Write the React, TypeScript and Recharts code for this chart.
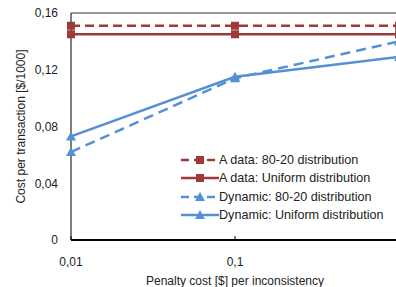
import { CartesianGrid, Legend, Line, LineChart, ReferenceLine, XAxis, YAxis } from "recharts"

const penalties = [0.01, 0.1, 1]
const xTicks = [0.01, 0.1]
const yTicks = [0, 0.04, 0.08, 0.12, 0.16]

const aData8020 = [0.151, 0.151, 0.151]
const aDataUniform = [0.145, 0.145, 0.145]
const dynamic8020 = [0.062, 0.114, 0.14]
const dynamicUniform = [0.073, 0.115, 0.129]

const seriesNames = [
  "A data: 80-20 distribution",
  "A data: Uniform distribution",
  "Dynamic: 80-20 distribution",
  "Dynamic: Uniform distribution",
]

const RED = "#9E3A37"
const BLUE = "#5590D6"
const FONT = "'Liberation Sans', Arial, sans-serif"

const series = [
  { key: "a8020", name: seriesNames[0], color: RED, dash: "9 5", marker: "square" },
  { key: "aUni", name: seriesNames[1], color: RED, dash: undefined, marker: "square" },
  { key: "d8020", name: seriesNames[2], color: BLUE, dash: "10 6", marker: "triangle" },
  { key: "dUni", name: seriesNames[3], color: BLUE, dash: undefined, marker: "triangle" },
]

const chartData = penalties.map((p, i) => ({
  penalty: p,
  a8020: aData8020[i],
  aUni: aDataUniform[i],
  d8020: dynamic8020[i],
  dUni: dynamicUniform[i],
}))

const fmt = (v: number) => String(v).replace(".", ",")

const Marker = ({ cx, cy, kind, color }: { cx: number; cy: number; kind: string; color: string }) => {
  if (kind === "square") {
    return <rect x={cx - 4} y={cy - 4} width={8} height={8} fill={color} />
  }
  return <path d={`M${cx},${cy - 5} L${cx + 5},${cy + 4} L${cx - 5},${cy + 4} Z`} fill={color} />
}

const XTick = (props: any) => {
  const { x, y, payload } = props
  return (
    <g>
      <line x1={x} x2={x} y1={y - 4} y2={y} stroke="#000" strokeWidth={1} />
      <text x={x} y={y + 26} textAnchor="middle" fontSize={12} fontFamily={FONT} fill="#222">
        {fmt(payload.value)}
      </text>
    </g>
  )
}

const renderLegend = () => (
  <div style={{ fontFamily: FONT, fontSize: 12.6, color: "#222" }}>
    {series.map((s) => (
      <div key={s.key} style={{ display: "flex", alignItems: "center", height: 18.3 }}>
        <svg width={38} height={12}>
          <line x1={0} x2={38} y1={6} y2={6} stroke={s.color} strokeWidth={2.5} strokeDasharray={s.dash ? "8 5" : undefined} />
          <Marker cx={19} cy={6} kind={s.marker} color={s.color} />
        </svg>
        <span style={{ whiteSpace: "nowrap" }}>{s.name}</span>
      </div>
    ))}
  </div>
)

export default function App() {
  return (
    <div style={{ position: "absolute", left: 0, top: 0, width: 396, height: 287, overflow: "hidden", background: "#fff" }}>
      <LineChart width={400} height={287} data={chartData} margin={{ top: 13, right: 1, bottom: 0, left: 0 }}>
        <CartesianGrid horizontal={false} vertical={false} />
        <XAxis
          dataKey="penalty"
          type="number"
          scale="log"
          domain={[0.01, 1]}
          ticks={xTicks}
          tick={<XTick />}
          tickLine={false}
          tickSize={0}
          tickMargin={0}
          height={47}
          axisLine={{ stroke: "#000", strokeWidth: 2 }}
          label={{ value: "Penalty cost [$] per inconsistency", position: "center", dy: 17, fontSize: 12, fontFamily: FONT, fill: "#222" }}
        />
        <YAxis
          domain={[0, 0.16]}
          ticks={yTicks}
          width={71}
          tickLine={false}
          tickSize={0}
          tickMargin={13}
          tickFormatter={fmt}
          tick={{ fontSize: 12, fontFamily: FONT, fill: "#222" }}
          axisLine={{ stroke: "#000", strokeWidth: 1 }}
          label={{ value: "Cost per transaction [$/1000]", angle: -90, position: "center", dx: -15, fontSize: 12, fontFamily: FONT, fill: "#222" }}
        />
        <ReferenceLine y={0.16} stroke="#333" strokeWidth={1} />
        {series.map((s) => (
          <Line
            key={s.key}
            dataKey={s.key}
            name={s.name}
            stroke={s.color}
            strokeWidth={2.5}
            strokeDasharray={s.dash}
            isAnimationActive={false}
            dot={(p: any) => <Marker key={`${s.key}-${p.index}`} cx={p.cx} cy={p.cy} kind={s.marker} color={s.color} />}
            activeDot={false}
          />
        ))}
        <Legend
          layout="vertical"
          align="center"
          verticalAlign="middle"
          content={renderLegend}
          wrapperStyle={{ position: "absolute", left: 181, top: 151, width: 215 }}
        />
      </LineChart>
    </div>
  )
}
